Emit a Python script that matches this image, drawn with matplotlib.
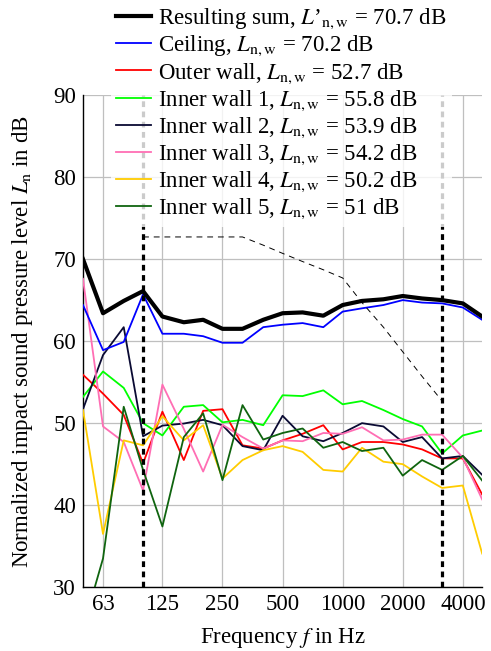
import matplotlib
matplotlib.use("Agg")
import matplotlib.pyplot as plt
import numpy as np

plt.rcParams['font.family'] = ['Liberation Serif', 'DejaVu Serif']
plt.rcParams['mathtext.fontset'] = 'stix'
plt.rcParams['font.size'] = 16.5

# third-octave band centre frequencies
freq = [50, 63, 80, 100, 125, 160, 200, 250, 315, 400, 500, 630, 800,
        1000, 1250, 1600, 2000, 2500, 3150, 4000, 5000]

res_sum = [70.0, 63.4, 64.9, 66.1, 63.0, 62.3, 62.6, 61.5, 61.5, 62.6, 63.4,
           63.5, 63.1, 64.4, 64.9, 65.1, 65.5, 65.2, 65.0, 64.6, 63.0]
ceiling = [64.4, 58.9, 59.9, 65.7, 60.9, 60.9, 60.6, 59.8, 59.8, 61.7, 62.0,
           62.2, 61.7, 63.6, 64.0, 64.4, 65.0, 64.7, 64.6, 64.1, 62.6]
outer = [55.9, 53.6, 51.0, 45.1, 51.4, 45.5, 51.5, 51.7, 47.3, 46.9, 47.9,
         48.7, 49.75, 46.8, 47.7, 47.7, 47.4, 46.8, 45.7, 45.7, 41.3]
inner1 = [53.2, 56.3, 54.3, 50.0, 48.5, 52.0, 52.2, 50.1, 50.4, 49.75, 53.4,
          53.3, 54.0, 52.3, 52.7, 51.6, 50.5, 49.6, 46.3, 48.5, 49.1]
inner2 = [51.7, 58.3, 61.7, 48.4, 49.7, 49.95, 50.4, 49.75, 47.2, 46.7, 50.9,
          48.4, 47.8, 48.8, 50.0, 49.6, 47.7, 48.3, 45.7, 46.0, 43.7]
inner3 = [67.6, 49.6, 47.7, 41.8, 54.7, 49.3, 44.1, 49.8, 48.3, 46.9, 47.9,
          47.8, 48.8, 48.7, 49.5, 47.9, 48.0, 48.6, 48.6, 45.8, 40.7]
inner4 = [51.6, 36.5, 47.9, 47.3, 50.85, 47.9, 49.75, 43.25, 45.5, 46.7, 47.2,
          46.5, 44.3, 44.1, 47.0, 45.3, 45.0, 43.5, 42.1, 42.4, 34.1]
inner5 = [25.0, 33.5, 52.0, 44.3, 37.4, 48.3, 51.2, 43.05, 52.2, 48.0, 48.8,
          49.35, 47.0, 47.7, 46.6, 47.0, 43.6, 45.5, 44.3, 46.0, 43.0]

# shifted reference curve (100 - 3150 Hz)
ref_freq = [100, 125, 160, 200, 250, 315, 400, 500, 630, 800, 1000, 1250,
            1600, 2000, 2500, 3150]
ref_curve = [72.7, 72.7, 72.7, 72.7, 72.7, 72.7, 71.7, 70.7, 69.7, 68.7, 67.7,
             64.7, 61.7, 58.7, 55.7, 52.7]
eval_limits = [100, 3150]

xticks = [63, 125, 250, 500, 1000, 2000, 4000]

fig = plt.figure(figsize=(4.91, 6.51), dpi=100)
ax = fig.add_axes([0.169, 0.098, 0.813, 0.756])

lw = 1.3
ax.plot(freq, ceiling, color='#0000ff', lw=lw, zorder=4,
        label=r'Ceiling, $L_{\rm n,w}$ = 70.2 dB')
ax.plot(freq, outer, color='#ff0000', lw=lw, zorder=3,
        label=r'Outer wall, $L_{\rm n,w}$ = 52.7 dB')
ax.plot(freq, inner1, color='#00ff00', lw=lw, zorder=3,
        label=r'Inner wall 1, $L_{\rm n,w}$ = 55.8 dB')
ax.plot(freq, inner2, color='#0a0a33', lw=lw, zorder=3,
        label=r'Inner wall 2, $L_{\rm n,w}$ = 53.9 dB')
ax.plot(freq, inner3, color='#ff6eb4', lw=lw, zorder=3,
        label=r'Inner wall 3, $L_{\rm n,w}$ = 54.2 dB')
ax.plot(freq, inner4, color='#ffcc00', lw=lw, zorder=3,
        label=r'Inner wall 4, $L_{\rm n,w}$ = 50.2 dB')
ax.plot(freq, inner5, color='#0f640f', lw=lw, zorder=3,
        label=r'Inner wall 5, $L_{\rm n,w}$ = 51 dB')
ax.plot(freq, res_sum, color='black', lw=3.0, zorder=5,
        label=r"Resulting sum, $L$’$_{\rm n,w}$ = 70.7 dB")
ax.plot(ref_freq, ref_curve, color='black', lw=0.7, ls=(0, (6, 5)), zorder=5)
for f in eval_limits:
    ax.axvline(f, color='black', lw=2.3, ls=(0, (1.8, 1.4)), zorder=6)

ax.set_xscale('log')
ax.set_xlim(50, 5000)
ax.set_ylim(30, 90)
ax.set_xticks(xticks)
ax.set_xticklabels([str(t) for t in xticks])
ax.xaxis.set_minor_locator(matplotlib.ticker.NullLocator())
ax.set_yticks(np.arange(30, 91, 10))
ax.tick_params(length=0, pad=5)
ax.grid(True, color='#bfbfbf', lw=0.9)
ax.set_axisbelow(True)
for s in ['top', 'right']:
    ax.spines[s].set_visible(False)
for s in ['left', 'bottom']:
    ax.spines[s].set_linewidth(1.0)

ax.set_xlabel(r'Frequency $f$ in Hz', labelpad=8)
ax.set_ylabel(r'Normalized impact sound pressure level $L_{\rm n}$ in dB', labelpad=13)

handles, labels = ax.get_legend_handles_labels()
handles = [handles[-1]] + handles[:-1]
labels = [labels[-1]] + labels[:-1]
leg = fig.legend(handles, labels, loc='upper left', bbox_to_anchor=(0.202, 1.016),
                 frameon=True, framealpha=0.8, edgecolor='none', fancybox=False,
                 handlelength=1.53, handletextpad=0.3, labelspacing=0.12,
                 borderpad=0.25, fontsize=16.5)
leg.set_zorder(10)

fig.savefig('out.png', dpi=100)
